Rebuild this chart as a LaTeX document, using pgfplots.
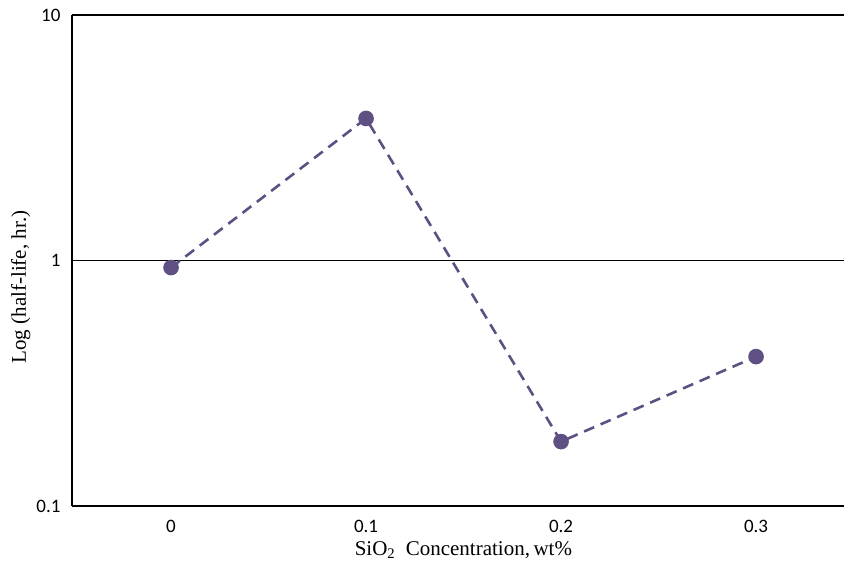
\documentclass[border=0pt]{standalone}
\usepackage{fontspec}
\setmainfont{Liberation Serif}
\newfontfamily\calib{Carlito}
\usepackage{pgfplots}
\pgfplotsset{compat=1.18}
\definecolor{series}{HTML}{5E5082}
\begin{document}
\begin{tikzpicture}
\begin{axis}[
  at={(72pt,57pt)}, anchor=south west,
  scale only axis, width=772pt, height=491pt,
  ymode=log, ymin=0.1, ymax=10,
  xmin=-0.508, xmax=3.451,
  axis x line*=box, axis y line*=left,
  axis line style={line width=2.6pt, black},
  xtick={0,1,2,3}, xticklabels={0,0.1,0.2,0.3},
  ytick={0.1,1,10}, yticklabels={0.1,1,10},
  major tick length=0pt, minor tick num=0,
  yminorticks=false,
  ymajorgrids, grid style={black, line width=0.9pt},
  /pgf/number format/assume math mode=true,
  ticklabel style={font=\calib\fontsize{19}{22}\selectfont},
  xticklabel style={yshift=-11pt},
  yticklabel style={xshift=-8pt},
  xlabel={SiO\textsubscript{2}\ \ Concentration,\,wt\%},
  ylabel={Log (half-life, hr.)},
  label style={font=\fontsize{21}{24}\selectfont},
  xlabel style={at={(axis description cs:0.507,0)}, anchor=north, yshift=-32pt},
  ylabel style={at={(axis description cs:0,0.446)}, anchor=south, yshift=38pt},
  clip=false,
]
\addplot[color=series, line width=2.6pt, dash pattern=on 11pt off 7pt,
  mark=*, mark options={solid, fill=series, draw=series}, mark size=6.5pt]
  coordinates {(0,0.936) (1,3.79) (2,0.183) (3,0.406)};
\end{axis}
\pgfresetboundingbox
\useasboundingbox (0,0) rectangle (844pt,563pt);
\end{tikzpicture}
\end{document}
